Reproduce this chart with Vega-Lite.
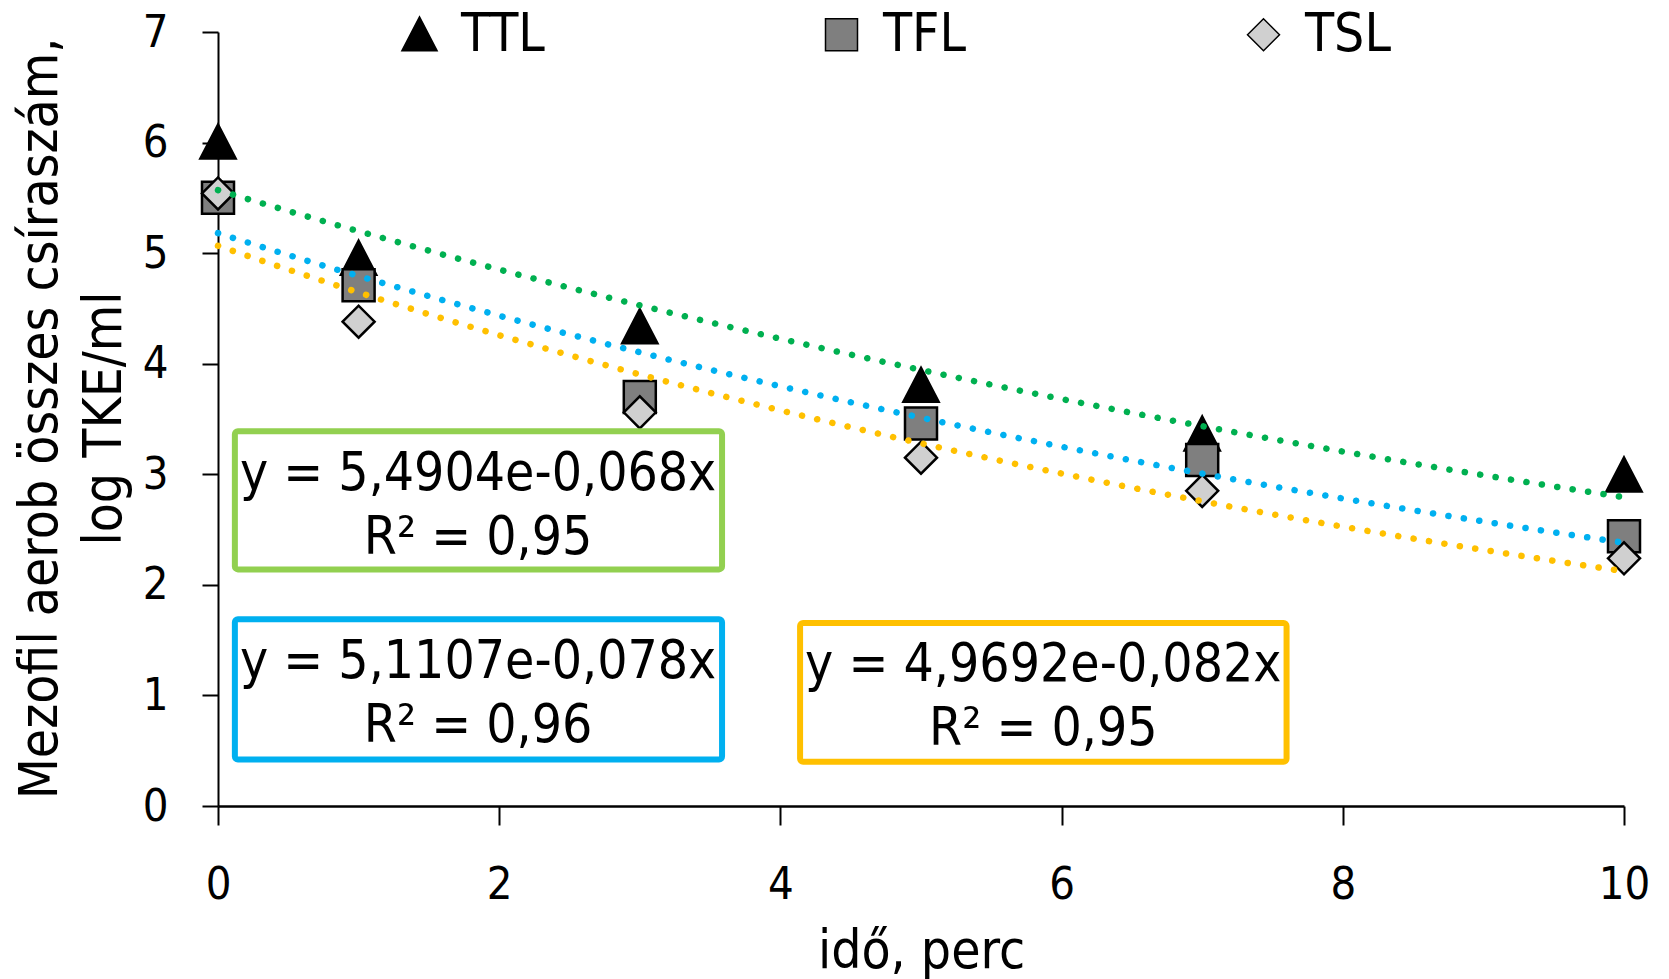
{
  "$schema": "https://vega.github.io/schema/vega-lite/v6.json",
  "width": 1406,
  "height": 774,
  "autosize": {"type": "none"},
  "padding": {"left": 218, "top": 32, "right": 45, "bottom": 173},
  "background": "white",
  "config": {
    "font": "DejaVu Sans Condensed",
    "view": {"stroke": null},
    "axisX": {
      "grid": false,
      "domainColor": "black",
      "domainWidth": 2.5,
      "tickColor": "black",
      "tickWidth": 2,
      "tickSize": 19,
      "labelFontSize": 45,
      "labelPadding": 37,
      "labelColor": "black",
      "labelFlush": false,
      "titleFontSize": 53,
      "titleFontWeight": "normal",
      "titleColor": "black",
      "titlePadding": 18
    },
    "axisY": {
      "grid": false,
      "domainColor": "black",
      "domainWidth": 2,
      "tickColor": "black",
      "tickWidth": 2,
      "tickSize": 16,
      "labelFontSize": 45,
      "labelPadding": 34,
      "labelColor": "black",
      "labelFlush": false,
      "titleFontSize": 53,
      "titleFontWeight": "normal",
      "titleColor": "black",
      "titleLineHeight": 64,
      "titleAngle": -90,
      "titleAlign": "center",
      "titleBaseline": "middle",
      "titleX": -178,
      "titleY": 386
    }
  },
  "datasets": {
    "pts": [
      {"time": 0, "value": 6.0, "series": "TTL"},
      {"time": 1, "value": 4.95, "series": "TTL"},
      {"time": 3, "value": 4.33, "series": "TTL"},
      {"time": 5, "value": 3.8, "series": "TTL"},
      {"time": 7, "value": 3.36, "series": "TTL"},
      {"time": 10, "value": 2.99, "series": "TTL"},
      {"time": 0, "value": 5.5, "series": "TFL"},
      {"time": 1, "value": 4.71, "series": "TFL"},
      {"time": 3, "value": 3.7, "series": "TFL"},
      {"time": 5, "value": 3.46, "series": "TFL"},
      {"time": 7, "value": 3.13, "series": "TFL"},
      {"time": 10, "value": 2.44, "series": "TFL"},
      {"time": 0, "value": 5.54, "series": "TSL"},
      {"time": 1, "value": 4.38, "series": "TSL"},
      {"time": 3, "value": 3.56, "series": "TSL"},
      {"time": 5, "value": 3.15, "series": "TSL"},
      {"time": 7, "value": 2.85, "series": "TSL"},
      {"time": 10, "value": 2.24, "series": "TSL"}
    ],
    "boxes": [
      {"series": "TTL", "eq": ["y = 5,4904e-0,068x", "R² = 0,95"], "x1": 0.12, "x2": 3.585, "y1": 3.39, "y2": 2.14, "tx": 1.85, "ty": 3.0},
      {"series": "TFL", "eq": ["y = 5,1107e-0,078x", "R² = 0,96"], "x1": 0.12, "x2": 3.585, "y1": 1.69, "y2": 0.42, "tx": 1.85, "ty": 1.3},
      {"series": "TSL", "eq": ["y = 4,9692e-0,082x", "R² = 0,95"], "x1": 4.14, "x2": 7.6, "y1": 1.655, "y2": 0.4, "tx": 5.87, "ty": 1.275}
    ]
  },
  "resolve": {"scale": {"stroke": "independent"}},
  "layer": [
    {
      "data": {"name": "pts"},
      "mark": {"type": "point", "filled": true, "stroke": "black", "strokeWidth": 2.5, "size": 1024, "opacity": 1},
      "encoding": {
        "x": {
          "field": "time",
          "type": "quantitative",
          "title": "idő, perc",
          "scale": {"domain": [0, 10], "nice": false},
          "axis": {"values": [0, 2, 4, 6, 8, 10], "format": "d"}
        },
        "y": {
          "field": "value",
          "type": "quantitative",
          "title": ["Mezofil aerob összes csíraszám,", "log TKE/ml"],
          "scale": {"domain": [0, 7], "nice": false},
          "axis": {"values": [0, 1, 2, 3, 4, 5, 6, 7], "format": "d"}
        },
        "shape": {
          "field": "series",
          "type": "nominal",
          "scale": {"domain": ["TTL", "TFL", "TSL"], "range": ["M0,-1.12L1.1,1L-1.1,1Z", "square", "diamond"]},
          "legend": {
            "orient": "none",
            "legendX": 175,
            "legendY": -24,
            "direction": "horizontal",
            "title": null,
            "labelFontSize": 53,
            "labelOffset": 15,
            "labelColor": "black",
            "columnPadding": 270,
            "symbolSize": 1024,
            "encode": {"symbols": {"update": {"stroke": {"value": "black"}, "strokeWidth": {"value": 2.5}}}}
          }
        },
        "fill": {
          "field": "series",
          "type": "nominal",
          "scale": {"domain": ["TTL", "TFL", "TSL"], "range": ["#000000", "#7F7F7F", "#D0D0D0"]},
          "legend": {
            "orient": "none",
            "legendX": 175,
            "legendY": -24,
            "direction": "horizontal",
            "title": null,
            "labelFontSize": 53,
            "labelOffset": 15,
            "labelColor": "black",
            "columnPadding": 270,
            "symbolSize": 1024,
            "encode": {"symbols": {"update": {"stroke": {"value": "black"}, "strokeWidth": {"value": 2.5}}}}
          }
        }
      }
    },
    {
      "data": {"name": "boxes"},
      "mark": {"type": "rect", "fill": "white", "strokeWidth": 6, "cornerRadius": 3},
      "encoding": {
        "x": {"field": "x1", "type": "quantitative", "title": "idő, perc"},
        "x2": {"field": "x2"},
        "y": {"field": "y1", "type": "quantitative", "title": ["Mezofil aerob összes csíraszám,", "log TKE/ml"]},
        "y2": {"field": "y2"},
        "stroke": {
          "field": "series",
          "type": "nominal",
          "scale": {"domain": ["TTL", "TFL", "TSL"], "range": ["#92D050", "#00B0F0", "#FFC000"]},
          "legend": null
        }
      }
    },
    {
      "data": {"name": "boxes"},
      "mark": {"type": "text", "align": "center", "baseline": "middle", "fontSize": 53, "lineHeight": 64, "color": "black"},
      "encoding": {
        "x": {"field": "tx", "type": "quantitative", "title": "idő, perc"},
        "y": {"field": "ty", "type": "quantitative", "title": ["Mezofil aerob összes csíraszám,", "log TKE/ml"]},
        "text": {"field": "eq"}
      }
    },
    {
      "data": {"name": "pts"},
      "transform": [
        {"regression": "value", "on": "time", "groupby": ["series"], "method": "exp", "extent": [0, 10]}
      ],
      "mark": {"type": "line", "strokeWidth": 6.5, "strokeDash": [0.1, 15.5], "strokeCap": "round"},
      "encoding": {
        "x": {"field": "time", "type": "quantitative", "title": "idő, perc"},
        "y": {"field": "value", "type": "quantitative", "title": ["Mezofil aerob összes csíraszám,", "log TKE/ml"]},
        "stroke": {
          "field": "series",
          "type": "nominal",
          "scale": {"domain": ["TTL", "TFL", "TSL"], "range": ["#00B050", "#00B0F0", "#FFC000"]},
          "legend": null
        }
      }
    }
  ]
}
